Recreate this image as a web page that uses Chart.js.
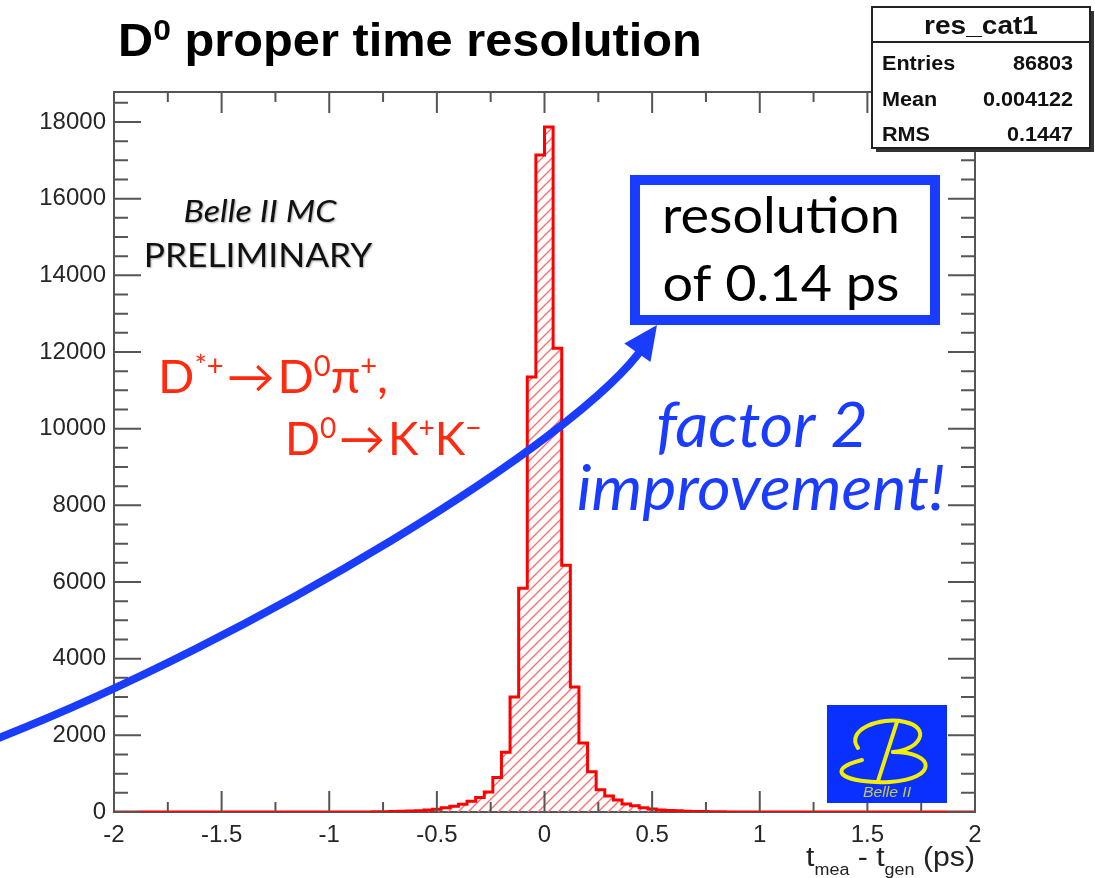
<!DOCTYPE html>
<html>
<head>
<meta charset="utf-8">
<title>D0 proper time resolution</title>
<script src="https://cdn.jsdelivr.net/npm/chart.js@4.4.0/dist/chart.umd.min.js"></script>
<style>
  html, body { margin: 0; padding: 0; background: #fff; }
  canvas { display: block; }
</style>
</head>
<body>
<canvas id="resChart" width="1095" height="878"></canvas>
<script>
// histogram res_cat1: lower bin edges (ps), bins are 0.04 wide, all other bins empty
const binLow = [-0.80, -0.76, -0.72, -0.68, -0.64, -0.60, -0.56, -0.52, -0.48, -0.44,
                -0.40, -0.36, -0.32, -0.28, -0.24, -0.20, -0.16, -0.12, -0.08, -0.04,
                 0.00,  0.04,  0.08,  0.12,  0.16,  0.20,  0.24,  0.28,  0.32,  0.36,
                 0.40,  0.44,  0.48,  0.52,  0.56,  0.60,  0.64,  0.68,  0.72,  0.76, 0.80];
const counts = [6, 9, 13, 18, 25, 35, 50, 75, 110, 150,
                200, 280, 380, 520, 900, 1560, 3000, 5840, 11350, 17140,
                17870, 12100, 6440, 3260, 1800, 1050, 580, 420, 310, 210,
                160, 110, 80, 55, 40, 30, 22, 16, 12, 9, 6];
const binWidth = 0.04;

const xTicks = [-2, -1.5, -1, -0.5, 0, 0.5, 1, 1.5, 2];
const xTickLabels = ['-2', '-1.5', '-1', '-0.5', '0', '0.5', '1', '1.5', '2'];
const yTicks = [0, 2000, 4000, 6000, 8000, 10000, 12000, 14000, 16000, 18000];
const yTickLabels = ['0', '2000', '4000', '6000', '8000', '10000', '12000', '14000', '16000', '18000'];
const yMax = 18783;

const statsTitle = 'res_cat1';
const statsRows = [['Entries', '86803'], ['Mean', '0.004122'], ['RMS', '0.1447']];

// step outline points: empty range, then one point per bin low edge
const histPoints = [{ x: -2, y: 0 }];
binLow.forEach((lo, i) => histPoints.push({ x: lo, y: counts[i] }));
histPoints.push({ x: binLow[binLow.length - 1] + binWidth, y: 0 });
histPoints.push({ x: 2, y: 0 });

const ROOT_FONT = '"Liberation Sans", Arial, Helvetica, sans-serif';
const SLIDE_FONT = 'Lato, "Open Sans", sans-serif';
const BLUE = '#1a3cff';
const RED_TXT = '#ff2a10';

function hatch() {
    const c = document.createElement('canvas');
    c.width = 10; c.height = 10;
    const g = c.getContext('2d');
    g.strokeStyle = '#ff6a6a';
    g.lineWidth = 1.3;
    g.beginPath();
    g.moveTo(0, 10); g.lineTo(10, 0);
    g.moveTo(-5, 5); g.lineTo(5, -5);
    g.moveTo(5, 15); g.lineTo(15, 5);
    g.stroke();
    return g.createPattern(c, 'repeat');
}

// draws a run of text pieces [text, size, raise], widened by sx
function runs(ctx, x, y, parts, family, style, align, sx) {
    sx = sx || 1;
    let w = 0;
    parts.forEach(p => {
        ctx.font = (style || '') + ' ' + p[1] + 'px ' + family;
        w += ctx.measureText(p[0]).width;
    });
    let cx = 0;
    if (align === 'right') cx = -w;
    if (align === 'center') cx = -w / 2;
    ctx.save();
    ctx.translate(x, y);
    ctx.scale(sx, 1);
    ctx.textAlign = 'left';
    parts.forEach(p => {
        ctx.font = (style || '') + ' ' + p[1] + 'px ' + family;
        ctx.fillText(p[0], cx, -(p[2] || 0));
        cx += ctx.measureText(p[0]).width;
    });
    ctx.restore();
    return w * sx;
}

function text(ctx, s, x, y, font, align, sx) {
    ctx.save();
    ctx.translate(x, y);
    ctx.scale(sx || 1, 1);
    ctx.font = font;
    ctx.textAlign = align || 'left';
    ctx.fillText(s, 0, 0);
    ctx.restore();
}

// ROOT style frame with inward ticks on all four sides
const frame = {
    id: 'frame',
    beforeDatasetsDraw(chart) {
        const { ctx, chartArea: a } = chart;
        ctx.save();
        ctx.strokeStyle = '#555';
        ctx.lineWidth = 2;
        ctx.strokeRect(a.left, a.top, a.right - a.left, a.bottom - a.top);
        ctx.restore();
    },
    afterDatasetsDraw(chart) {
        const { ctx, chartArea: a, scales } = chart;
        const xs = scales.x, ys = scales.y;
        ctx.save();
        ctx.strokeStyle = '#555';
        ctx.lineWidth = 2;
        ctx.beginPath();
        for (let i = 0; i < xTicks.length; i++) {
            const px = xs.getPixelForValue(xTicks[i]);
            ctx.moveTo(px, a.bottom); ctx.lineTo(px, a.bottom - 21);
            ctx.moveTo(px, a.top); ctx.lineTo(px, a.top + 21);
            if (i < xTicks.length - 1) {
                const pm = xs.getPixelForValue((xTicks[i] + xTicks[i + 1]) / 2);
                ctx.moveTo(pm, a.bottom); ctx.lineTo(pm, a.bottom - 10);
                ctx.moveTo(pm, a.top); ctx.lineTo(pm, a.top + 10);
            }
        }
        for (let v = 0; v <= yMax; v += 500) {
            const py = ys.getPixelForValue(v);
            const len = v % 2000 === 0 ? 27 : 14;
            ctx.moveTo(a.left, py); ctx.lineTo(a.left + len, py);
            ctx.moveTo(a.right, py); ctx.lineTo(a.right - len, py);
        }
        ctx.stroke();
        ctx.restore();
    }
};

function belleLogo(ctx) {
    ctx.save();
    ctx.fillStyle = '#0a30ff';
    ctx.fillRect(827, 705, 120, 98);
    ctx.strokeStyle = '#f2f000';
    ctx.lineCap = 'round';
    ctx.lineWidth = 4;
    // upper bowl of the script B
    ctx.beginPath();
    ctx.moveTo(858, 748);
    ctx.bezierCurveTo(845, 730, 880, 716, 905, 722);
    ctx.bezierCurveTo(932, 728, 920, 750, 893, 752);
    ctx.stroke();
    // lower swoosh
    ctx.beginPath();
    ctx.moveTo(862, 760);
    ctx.bezierCurveTo(822, 770, 845, 784, 890, 782);
    ctx.bezierCurveTo(938, 779, 936, 752, 893, 752);
    ctx.stroke();
    // stem
    ctx.beginPath();
    ctx.moveTo(897, 722);
    ctx.lineTo(878, 781);
    ctx.stroke();
    ctx.fillStyle = '#c9c94a';
    text(ctx, 'Belle II', 887, 797, 'italic 15px ' + ROOT_FONT, 'center', 1.05);
    ctx.restore();
}

const overlay = {
    id: 'overlay',
    afterDraw(chart) {
        const ctx = chart.ctx;
        ctx.save();
        ctx.textBaseline = 'alphabetic';

        // title
        ctx.fillStyle = '#000';
        runs(ctx, 118, 56, [['D', 46], ['0', 30, 16], [' proper time resolution', 46]], ROOT_FONT, 'bold', 'left', 1.06);

        // x axis title
        ctx.fillStyle = '#222';
        runs(ctx, 975, 866, [['t', 27], ['mea', 16, -9], [' - t', 27], ['gen', 16, -9], [' (ps)', 27]], ROOT_FONT, '', 'right', 1.12);

        // stats box
        ctx.fillStyle = '#333';
        ctx.fillRect(876, 11, 218, 141);
        ctx.fillStyle = '#fff';
        ctx.fillRect(872, 7, 218, 141);
        ctx.strokeStyle = '#222';
        ctx.lineWidth = 2;
        ctx.strokeRect(872, 7, 218, 141);
        ctx.beginPath();
        ctx.moveTo(872, 42); ctx.lineTo(1090, 42);
        ctx.stroke();
        ctx.fillStyle = '#111';
        text(ctx, statsTitle, 981, 34, 'bold 26px ' + ROOT_FONT, 'center', 1.08);
        statsRows.forEach((r, i) => {
            const y = 70 + i * 35.5;
            text(ctx, r[0], 882, y, 'bold 20px ' + ROOT_FONT, 'left', 1.08);
            text(ctx, r[1], 1073, y, 'bold 20px ' + ROOT_FONT, 'right', 1.08);
        });

        // experiment label
        ctx.save();
        ctx.shadowColor = 'rgba(0,0,0,0.35)';
        ctx.shadowBlur = 2;
        ctx.shadowOffsetX = 1;
        ctx.shadowOffsetY = 1;
        ctx.fillStyle = '#111';
        text(ctx, 'Belle II MC', 260, 222, 'italic 31px ' + SLIDE_FONT, 'center', 1.1);
        text(ctx, 'PRELIMINARY', 258, 267, '33px ' + SLIDE_FONT, 'center', 1.07);
        ctx.restore();

        // decay chain
        ctx.fillStyle = RED_TXT;
        runs(ctx, 158, 393, [['D', 46], ['*+', 28, 17], ['\u200a\u2192\u200a', 46], ['D', 46], ['0', 28, 17], ['\u03c0', 46], ['+', 28, 17], [',', 46]], SLIDE_FONT, '', 'left', 1.04);
        runs(ctx, 285, 455, [['D', 46], ['0', 28, 17], ['\u200a\u2192\u200a', 46], ['K', 46], ['+', 28, 17], ['K', 46], ['\u2212', 28, 17]], SLIDE_FONT, '', 'left', 1.0);

        // resolution box
        ctx.strokeStyle = BLUE;
        ctx.lineWidth = 10;
        ctx.strokeRect(635, 180, 300, 140);
        ctx.fillStyle = '#000';
        text(ctx, 'resolution', 781, 233, '50px ' + SLIDE_FONT, 'center', 1.08);
        text(ctx, 'of 0.14 ps', 781, 301, '50px ' + SLIDE_FONT, 'center', 1.08);

        ctx.fillStyle = BLUE;
        text(ctx, 'factor 2', 762, 447, 'italic 62px ' + SLIDE_FONT, 'center', 1.04);
        text(ctx, 'improvement!', 761, 510, 'italic 62px ' + SLIDE_FONT, 'center', 1.04);

        // arrow
        ctx.strokeStyle = BLUE;
        ctx.lineWidth = 8;
        ctx.lineCap = 'butt';
        ctx.beginPath();
        ctx.moveTo(-4, 739);
        ctx.bezierCurveTo(250, 640, 580, 440, 644, 346);
        ctx.stroke();
        const tip = { x: 657, y: 325 };
        const d = { x: 0.577, y: -0.817 };
        const bx = tip.x - 34 * d.x, by = tip.y - 34 * d.y;
        ctx.fillStyle = BLUE;
        ctx.beginPath();
        ctx.moveTo(tip.x, tip.y);
        ctx.lineTo(bx + 16 * 0.817, by + 16 * 0.577);
        ctx.lineTo(bx - 16 * 0.817, by - 16 * 0.577);
        ctx.closePath();
        ctx.fill();

        belleLogo(ctx);
        ctx.restore();
    }
};

new Chart(document.getElementById('resChart'), {
    type: 'line',
    data: {
        datasets: [{
            label: statsTitle,
            data: histPoints,
            stepped: 'before',
            borderColor: '#ff0000',
            borderWidth: 3,
            backgroundColor: hatch(),
            fill: 'origin',
            pointRadius: 0,
            tension: 0
        }]
    },
    options: {
        responsive: false,
        animation: false,
        layout: { padding: { top: 92, right: 120, left: 0, bottom: 0 } },
        plugins: {
            legend: { display: false },
            tooltip: { enabled: false }
        },
        scales: {
            x: {
                type: 'linear',
                min: -2,
                max: 2,
                grid: { display: false, drawTicks: false },
                border: { display: false },
                afterBuildTicks: s => { s.ticks = xTicks.map(v => ({ value: v })); },
                afterFit: s => { s.height = 66; },
                ticks: {
                    autoSkip: false,
                    maxRotation: 0,
                    padding: 9,
                    color: '#262626',
                    font: { family: ROOT_FONT, size: 24 },
                    callback: (v, i) => xTickLabels[i]
                }
            },
            y: {
                min: 0,
                max: yMax,
                grid: { display: false, drawTicks: false },
                border: { display: false },
                afterBuildTicks: s => { s.ticks = yTicks.map(v => ({ value: v })); },
                afterFit: s => { s.width = 114; },
                ticks: {
                    padding: 8,
                    color: '#262626',
                    font: { family: ROOT_FONT, size: 24 },
                    callback: (v, i) => yTickLabels[i]
                }
            }
        }
    },
    plugins: [frame, overlay]
});
</script>
</body>
</html>
